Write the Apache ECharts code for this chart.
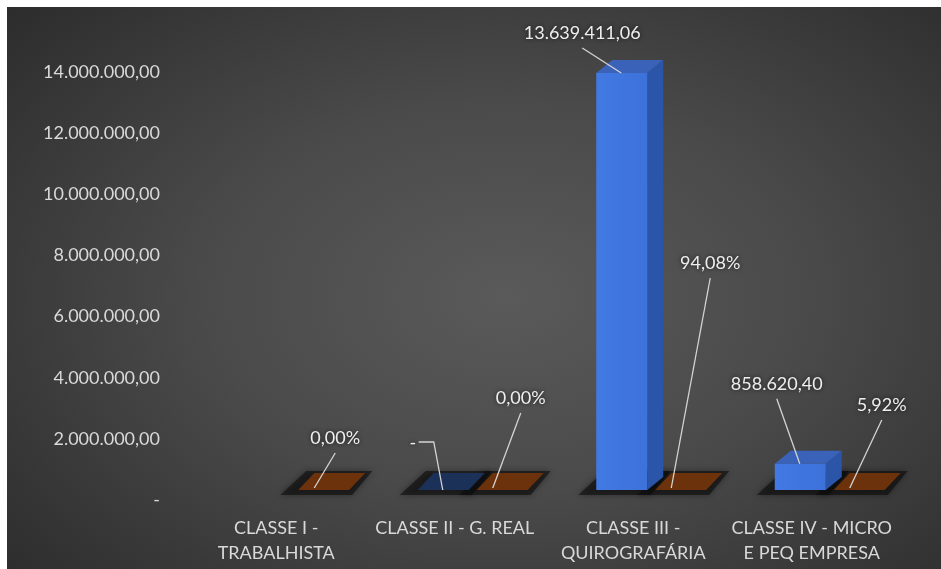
<!DOCTYPE html>
<html>
<head>
<meta charset="utf-8">
<script src="https://cdn.jsdelivr.net/npm/echarts@6/dist/echarts.min.js"></script>
<style>
  html, body { margin: 0; padding: 0; background: #fff; overflow: hidden; }
  #chart {
    width: 941px; height: 569px;
    background: radial-gradient(ellipse 70% 75% at 52% 50%, #5a5a5a 0%, #4a4a4a 45%, #2c2c2c 100%) no-repeat 7px 7px / 960px 580px, #ffffff;
  }
</style>
</head>
<body>
<div id="chart"></div>
<script>
// ---- data ----
const categories = ['CLASSE I -\nTRABALHISTA', 'CLASSE II - G. REAL', 'CLASSE III -\nQUIROGRAFÁRIA', 'CLASSE IV - MICRO\nE PEQ EMPRESA'];
const valores = [null, 0, 13639411.06, 858620.40];
const percentuais = [0.0000, 0.0000, 0.9408, 0.0592];
const yMin = 0, yMax = 14000000, yInterval = 2000000;

// ---- styles (not data) ----
const FONT = '18px Lato';
const labelPos = {
  blue:   [null, {dx: -30, dy: -47, elbow: true}, {dx: -39, dy: -40}, {dx: -23, dy: -80}],
  orange: [{dx: 21, dy: -50}, {dx: 28, dy: -90}, {dx: 39, dy: -225}, {dx: 32, dy: -83}]
};
const BAR_W = 51, DX = 16;

function fmtNum(v) {
  if (v === 0) return '-';
  const parts = v.toFixed(2).split('.');
  return parts[0].replace(/\B(?=(\d{3})+(?!\d))/g, '.') + ',' + parts[1];
}
function fmtPct(v) { return (v * 100).toFixed(2).replace('.', ',') + '%'; }

function barGeom(api, i, v, offset) {
  const base = api.coord([i, 0]);
  const top = api.coord([i, v]);
  const x0 = base[0] + offset, x1 = x0 + BAR_W;
  const yb = base[1], yt = top[1];
  const h = yb - yt;
  const dy = h > 3 ? 13 : 17;
  return {x0, x1, yb, yt, h, dy};
}

function labelEls(text, ax, ay, pos) {
  const tx = ax + pos.dx, ty = ay + pos.dy;
  const pts = pos.elbow ? [[tx + 6, ty - 1], [ax - 9, ty - 1], [ax, ay]] : [[tx, ty + 15], [ax, ay]];
  return [
    {type: 'polyline', shape: {points: pts}, style: {stroke: '#d4d4d4', lineWidth: 1.3, fill: null}, z2: 20},
    {type: 'text', style: {text: text, x: tx, y: ty, align: 'center', verticalAlign: 'middle', font: FONT, fill: '#eeeeee',
      textShadowColor: 'rgba(0,0,0,0.7)', textShadowBlur: 4}, z2: 21}
  ];
}

function boxEls(g, colors) {
  const {x0, x1, yb, yt, h, dy} = g;
  const els = [];
  if (h > 3) {
    els.push({type: 'polygon', shape: {points: [[x1, yb], [x1 + DX, yb - dy], [x1 + DX, yt - dy], [x1, yt]]}, style: {fill: colors.side}});
    els.push({type: 'polygon', shape: {points: [[x0, yt], [x1, yt], [x1 + DX, yt - dy], [x0 + DX, yt - dy]]}, style: {fill: colors.top}});
    els.push({type: 'rect', shape: {x: x0, y: yt, width: BAR_W, height: h},
      style: {fill: new echarts.graphic.LinearGradient(0, 0, 1, 0, [{offset: 0, color: colors.front1}, {offset: 1, color: colors.front2}])}});
  } else {
    els.push({type: 'polygon', shape: {points: [[x0, yb], [x1, yb], [x1 + DX, yb - dy], [x0 + DX, yb - dy]]}, style: {fill: colors.flat}});
  }
  return els;
}

function shadowEl(g) {
  const {x0, x1, yb} = g;
  return {type: 'polygon', shape: {points: [[x0 - 18, yb + 5], [x1 + 3, yb + 5], [x1 + DX + 7, yb - 19], [x0 + DX - 8, yb - 19]]},
    style: {fill: 'rgba(12,12,12,0.6)', shadowBlur: 6, shadowColor: 'rgba(0,0,0,0.6)'}};
}

const blueColors = {side: '#2a55a8', top: '#3a62b8', front1: '#4279e2', front2: '#3c72da', flat: '#1b3158'};
const orangeColors = {side: '#5a2808', top: '#7a3a0e', front1: '#8a4210', front2: '#7a3a0e', flat: '#6c320c'};

const chart = echarts.init(document.getElementById('chart'), null, {renderer: 'canvas'});
chart.setOption({
  backgroundColor: 'transparent',
  animation: false,
  grid: {left: 187, right: 40, top: 62, bottom: 79},
  xAxis: {
    type: 'category', data: categories,
    axisLine: {show: false}, axisTick: {show: false},
    axisLabel: {color: '#d9d9d9', fontFamily: 'Lato', fontSize: 18, lineHeight: 25, margin: 26, interval: 0}
  },
  yAxis: {
    type: 'value', min: yMin, max: yMax, interval: yInterval,
    axisLine: {show: false}, axisTick: {show: false}, splitLine: {show: false},
    axisLabel: {color: '#d9d9d9', fontFamily: 'Lato', fontSize: 18, lineHeight: 20, verticalAlign: 'top', margin: 27, formatter: fmtNum}
  },
  series: [
    {
      type: 'custom', name: 'sombra', z: 1,
      data: categories.map((c, i) => [i, 0]),
      renderItem: function (params, api) {
        const i = api.value(0);
        const els = [];
        if (valores[i] != null) els.push(shadowEl(barGeom(api, i, valores[i], -37)));
        if (percentuais[i] != null) els.push(shadowEl(barGeom(api, i, percentuais[i], 22)));
        return {type: 'group', children: els};
      }
    },
    {
      type: 'custom', name: 'Valor', z: 3,
      data: valores.map((v, i) => [i, v]),
      renderItem: function (params, api) {
        const i = api.value(0), v = valores[params.dataIndex];
        if (v == null) return null;
        const g = barGeom(api, i, v, -37);
        const els = boxEls(g, blueColors);
        const pos = labelPos.blue[i];
        if (pos) els.push(...labelEls(fmtNum(v), g.x0 + 25, g.yt, pos));
        return {type: 'group', children: els};
      }
    },
    {
      type: 'custom', name: 'Percentual', z: 4,
      data: percentuais.map((v, i) => [i, v]),
      renderItem: function (params, api) {
        const i = api.value(0), v = percentuais[params.dataIndex];
        if (v == null) return null;
        const g = barGeom(api, i, v, 22);
        const els = boxEls(g, orangeColors);
        const pos = labelPos.orange[i];
        if (pos) els.push(...labelEls(fmtPct(v), g.x0 + 16, g.yb - 2, pos));
        return {type: 'group', children: els};
      }
    }
  ]
});
</script>
</body>
</html>
